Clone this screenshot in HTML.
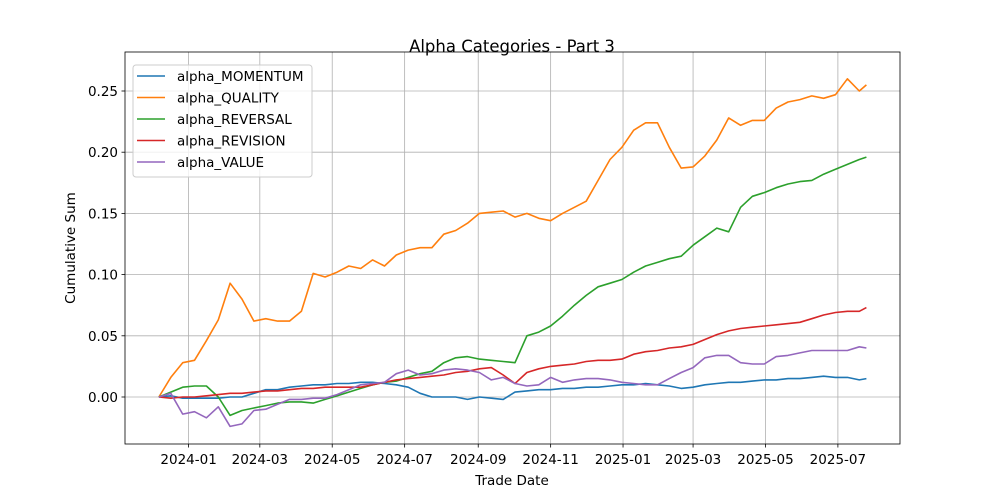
<!DOCTYPE html>
<html><head><meta charset="utf-8"><style>
body{margin:0;background:#fff;}
svg{display:block;font-family:"DejaVu Sans","Liberation Sans",sans-serif;}
</style></head><body>
<svg id="chart" width="1000" height="500" xmlns="http://www.w3.org/2000/svg">
<rect width="1000" height="500" fill="#fff"/>
<text x="512" y="52" text-anchor="middle" font-size="16.5">Alpha Categories - Part 3</text>
<text x="512" y="485" text-anchor="middle" font-size="13.5">Trade Date</text>
<text x="0" y="0" transform="translate(75,248) rotate(-90)" text-anchor="middle" font-size="13.5">Cumulative Sum</text>
<g id="grid"></g><g id="series"></g><g id="axes"></g><g id="legend"></g>
</svg>
<script>
const days = [-25,-15,-5,5,15,25,35,45,55,65,75,85,95,105,115,125,135,145,155,165,175,185,195,205,215,225,235,245,255,265,275,285,295,305,315,325,335,345,355,365,375,385,395,405,415,425,435,445,455,465,475,485,495,505,515,525,535,545,555,565,571];
const momentum = [0,0.001,-0.001,-0.001,-0.001,-0.001,0,0,0.003,0.006,0.006,0.008,0.009,0.01,0.01,0.011,0.011,0.012,0.012,0.011,0.01,0.008,0.003,0,0,0,-0.002,0,-0.001,-0.002,0.004,0.005,0.006,0.006,0.007,0.007,0.008,0.008,0.009,0.01,0.01,0.011,0.01,0.009,0.007,0.008,0.01,0.011,0.012,0.012,0.013,0.014,0.014,0.015,0.015,0.016,0.017,0.016,0.016,0.014,0.015];
const quality = [0,0.016,0.028,0.03,0.046,0.063,0.093,0.08,0.062,0.064,0.062,0.062,0.07,0.101,0.098,0.102,0.107,0.105,0.112,0.107,0.116,0.12,0.122,0.122,0.133,0.136,0.142,0.15,0.151,0.152,0.147,0.15,0.146,0.144,0.15,0.155,0.16,0.177,0.194,0.204,0.218,0.224,0.224,0.204,0.187,0.188,0.197,0.21,0.228,0.222,0.226,0.226,0.236,0.241,0.243,0.246,0.244,0.247,0.26,0.25,0.255];
const reversal = [0,0.004,0.008,0.009,0.009,0.0,-0.015,-0.011,-0.009,-0.007,-0.005,-0.004,-0.004,-0.005,-0.002,0.001,0.004,0.007,0.01,0.012,0.013,0.016,0.019,0.021,0.028,0.032,0.033,0.031,0.03,0.029,0.028,0.05,0.053,0.058,0.066,0.075,0.083,0.09,0.093,0.096,0.102,0.107,0.11,0.113,0.115,0.124,0.131,0.138,0.135,0.155,0.164,0.167,0.171,0.174,0.176,0.177,0.182,0.186,0.19,0.194,0.196];
const revision = [0,-0.001,0,0,0.001,0.002,0.003,0.003,0.004,0.005,0.005,0.006,0.007,0.007,0.008,0.008,0.008,0.008,0.01,0.012,0.014,0.015,0.016,0.017,0.018,0.02,0.021,0.023,0.024,0.018,0.011,0.02,0.023,0.025,0.026,0.027,0.029,0.03,0.03,0.031,0.035,0.037,0.038,0.04,0.041,0.043,0.047,0.051,0.054,0.056,0.057,0.058,0.059,0.06,0.061,0.064,0.067,0.069,0.07,0.07,0.073];
const value = [0,0.003,-0.014,-0.012,-0.017,-0.008,-0.024,-0.022,-0.011,-0.01,-0.006,-0.002,-0.002,-0.001,-0.001,0.002,0.006,0.01,0.011,0.012,0.019,0.022,0.018,0.019,0.022,0.023,0.022,0.02,0.014,0.016,0.011,0.009,0.01,0.016,0.012,0.014,0.015,0.015,0.014,0.012,0.011,0.01,0.01,0.015,0.02,0.024,0.032,0.034,0.034,0.028,0.027,0.027,0.033,0.034,0.036,0.038,0.038,0.038,0.038,0.041,0.04];
const seriesNames = ["alpha_MOMENTUM","alpha_QUALITY","alpha_REVERSAL","alpha_REVISION","alpha_VALUE"];
const yTicks = [0,0.05,0.10,0.15,0.20,0.25];
const yTickLabels = ["0.00","0.05","0.10","0.15","0.20","0.25"];
const xTickDays = [0,60,121,182,244,305,366,425,486,547];
const xTickLabels = ["2024-01","2024-03","2024-05","2024-07","2024-09","2024-11","2025-01","2025-03","2025-05","2025-07"];

const L=125,R=900,T=52,B=444;
const xScale=d=>188.6+1.187*d;
const yScale=v=>397-1224*v;
const NS="http://www.w3.org/2000/svg";
function mk(tag,attrs,parent){const e=document.createElementNS(NS,tag);for(const k in attrs)e.setAttribute(k,attrs[k]);parent.appendChild(e);return e;}
const grid=document.getElementById('grid'),axes=document.getElementById('axes'),ser=document.getElementById('series'),leg=document.getElementById('legend');
yTicks.forEach((v,i)=>{const y=yScale(v);
 const g=mk('line',{x1:L,x2:R,y1:y,y2:y,stroke:'#b0b0b0','stroke-width':0.8},grid);
 
 
 const t=mk('line',{x1:L-3.5,x2:L,y1:y,y2:y,stroke:'#000','stroke-width':0.8},axes);
 
 
 const tx=mk('text',{x:L-7,y:y+5,'text-anchor':'end','font-size':13.5},axes);tx.textContent=yTickLabels[i];
 
 
});
xTickDays.forEach((d,i)=>{const x=xScale(d);
 const g=mk('line',{x1:x,x2:x,y1:T,y2:B,stroke:'#b0b0b0','stroke-width':0.8},grid);
 
 
 const t=mk('line',{x1:x,x2:x,y1:B,y2:B+3.5,stroke:'#000','stroke-width':0.8},axes);
 
 
 const tx=mk('text',{x:x,y:B+20,'text-anchor':'middle','font-size':13.5},axes);tx.textContent=xTickLabels[i];
 
 
});
const frame=mk('rect',{x:L,y:T,width:R-L,height:B-T,fill:'none',stroke:'#000','stroke-width':0.8},axes);


const data=[momentum,quality,reversal,revision,value];
const colors=['#1f77b4','#ff7f0e','#2ca02c','#d62728','#9467bd'];
data.forEach((arr,si)=>{
 const pts=arr.map((v,i)=>xScale(days[i]).toFixed(1)+','+yScale(v).toFixed(1)).join(' ');
 const p=mk('polyline',{points:pts,fill:'none',stroke:colors[si],'stroke-width':1.6,'stroke-linejoin':'round'},ser);
 
 
});
const box=mk('rect',{x:133,y:65,width:179,height:112,rx:3,fill:'#fff','fill-opacity':0.8,stroke:'#ccc','stroke-width':1},leg);


seriesNames.forEach((n,i)=>{const y=76+21.5*i;
 const l=mk('line',{x1:137,x2:165,y1:y,y2:y,stroke:colors[i],'stroke-width':1.6},leg);
 
 
 const t=mk('text',{x:177,y:y+5,'font-size':13.5},leg);t.textContent=n;
 
 
});
</script>
</body></html>
